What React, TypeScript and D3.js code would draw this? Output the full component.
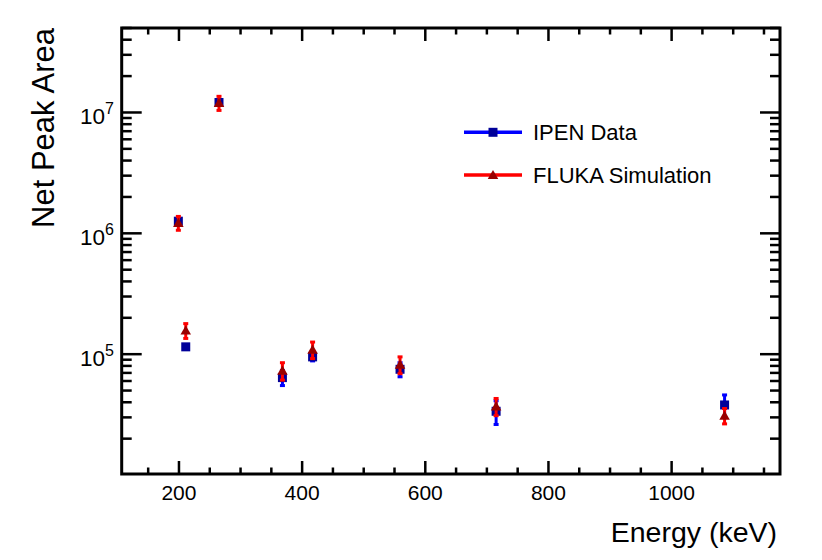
import * as d3 from "d3";
import React from "react";

// gamma line energies (keV) and net peak areas
const energies = [199, 265, 211, 368, 417, 559, 715, 1086];
const ipenValues = [1.26e6, 1.21e7, 1.15e5, 6.4e4, 9.5e4, 7.5e4, 3.37e4, 3.8e4];
const ipenErrors = [4e4, 4e5, 3e3, 9e3, 7e3, 1.0e4, 7.5e3, 8e3];
const flukaValues = [1.22e6, 1.2e7, 1.57e5, 7.3e4, 1.09e5, 8.2e4, 3.7e4, 3.1e4];
const flukaErrors = [1.6e5, 1.6e6, 2.2e4, 1.2e4, 1.7e4, 1.3e4, 6e3, 4.5e3];

const xMajorTicks = [200, 400, 600, 800, 1000];
const yMajorTicks = [1e5, 1e6, 1e7];
const yExponents = ["5", "6", "7"];
const legendLabels = ["IPEN Data", "FLUKA Simulation"];

const WIDTH = 822;
const HEIGHT = 560;
const frame = { left: 121.7, right: 780, top: 28, bottom: 474 };
const FONT = "'Liberation Sans', Arial, Helvetica, sans-serif";

export default function App() {
  const svgRef = React.useRef<SVGSVGElement | null>(null);

  React.useEffect(() => {
    const svg = d3.select(svgRef.current);
    svg.selectAll("*").remove();

    const x = d3.scaleLinear().domain([107, 1176]).range([frame.left, frame.right]);
    const y = d3.scaleLog().domain([1.02e4, 5e7]).range([frame.bottom, frame.top]);

    svg.append("rect").attr("width", WIDTH).attr("height", HEIGHT).attr("fill", "white");

    const axes = svg.append("g").attr("stroke", "black").attr("stroke-width", 2.5);

    // x ticks (bottom and top)
    const xMinor = d3.range(150, 1176, 50);
    xMinor.forEach((v) => {
      const major = v % 200 === 0;
      const len = major ? 13 : 6.5;
      axes.append("line").attr("x1", x(v)).attr("x2", x(v)).attr("y1", frame.bottom).attr("y2", frame.bottom - len);
      axes.append("line").attr("x1", x(v)).attr("x2", x(v)).attr("y1", frame.top).attr("y2", frame.top + len);
    });

    // y ticks (left and right), log decades with 2..9 minors
    const [y0, y1] = y.domain();
    const yTicks: { v: number; major: boolean }[] = [];
    for (let k = 4; k <= 7; k++) {
      for (let m = 1; m <= 9; m++) {
        const v = m * Math.pow(10, k);
        if (v >= y0 && v <= y1) yTicks.push({ v, major: m === 1 });
      }
    }
    yTicks.forEach(({ v, major }) => {
      const len = major ? 20 : 10;
      axes.append("line").attr("x1", frame.left).attr("x2", frame.left + len).attr("y1", y(v)).attr("y2", y(v));
      axes.append("line").attr("x1", frame.right).attr("x2", frame.right - len).attr("y1", y(v)).attr("y2", y(v));
    });

    axes
      .append("rect")
      .attr("x", frame.left)
      .attr("y", frame.top)
      .attr("width", frame.right - frame.left)
      .attr("height", frame.bottom - frame.top)
      .attr("fill", "none")
      .attr("stroke-width", 3);

    // tick labels
    xMajorTicks.forEach((v) => {
      svg
        .append("text")
        .attr("x", x(v))
        .attr("y", 500)
        .attr("text-anchor", "middle")
        .attr("font-family", FONT)
        .attr("font-size", 21)
        .text(String(v));
    });

    yMajorTicks.forEach((v, i) => {
      const t = svg
        .append("text")
        .attr("x", 114)
        .attr("y", y(v) + 11.5)
        .attr("text-anchor", "end")
        .attr("font-family", FONT)
        .attr("font-size", 22.5);
      t.append("tspan").text("10");
      t.append("tspan").attr("dy", -10).attr("font-size", 16).text(yExponents[i]);
    });

    // axis titles
    svg
      .append("text")
      .attr("x", 777)
      .attr("y", 541.5)
      .attr("text-anchor", "end")
      .attr("font-family", FONT)
      .attr("font-size", 28.5)
      .text("Energy (keV)");

    svg
      .append("text")
      .attr("transform", "translate(54,28) rotate(-90)")
      .attr("text-anchor", "end")
      .attr("font-family", FONT)
      .attr("font-size", 31)
      .text("Net Peak Area");

    const square = d3.symbol(d3.symbolSquare, 81);
    const triangle = d3.symbol().type(d3.symbolTriangle).size(48);

    const drawSeries = (
      values: number[],
      errors: number[],
      barColor: string,
      markerColor: string,
      marker: "square" | "triangle",
    ) => {
      const g = svg.append("g");
      energies.forEach((e, i) => {
        const cx = x(e);
        const yTop = y(values[i] + errors[i]);
        const yBot = y(values[i] - errors[i]);
        g.append("line")
          .attr("x1", cx)
          .attr("x2", cx)
          .attr("y1", yTop)
          .attr("y2", yBot)
          .attr("stroke", barColor)
          .attr("stroke-width", 3);
        [yTop, yBot].forEach((yy) =>
          g.append("rect").attr("x", cx - 2.5).attr("y", yy - 1.5).attr("width", 5).attr("height", 3).attr("fill", barColor),
        );
      });
      energies.forEach((e, i) => {
        g.append("path")
          .attr("transform", `translate(${x(e)},${y(values[i]) + (marker === "triangle" ? 1 : 0)})`)
          .attr("d", marker === "square" ? square() : triangle())
          .attr("fill", markerColor);
      });
    };

    drawSeries(ipenValues, ipenErrors, "#0000ff", "#000099", "square");
    drawSeries(flukaValues, flukaErrors, "#ff0000", "#990000", "triangle");

    // legend
    const legendRows = [
      { y: 132.3, line: "#0000ff", fill: "#000099", shape: square },
      { y: 175, line: "#ff0000", fill: "#990000", shape: triangle },
    ];
    legendRows.forEach((row, i) => {
      svg
        .append("line")
        .attr("x1", 464)
        .attr("x2", 522)
        .attr("y1", row.y)
        .attr("y2", row.y)
        .attr("stroke", row.line)
        .attr("stroke-width", 3.5);
      svg
        .append("path")
        .attr("transform", `translate(493,${row.y + (i === 1 ? 1 : 0)})`)
        .attr("d", row.shape())
        .attr("fill", row.fill);
      svg
        .append("text")
        .attr("x", 533)
        .attr("y", row.y + 7.8)
        .attr("font-family", FONT)
        .attr("font-size", 22)
        .text(legendLabels[i]);
    });
  }, []);

  return (
    <svg
      ref={svgRef}
      width={WIDTH}
      height={HEIGHT}
      style={{ position: "absolute", left: 0, top: 0, display: "block" }}
    />
  );
}
